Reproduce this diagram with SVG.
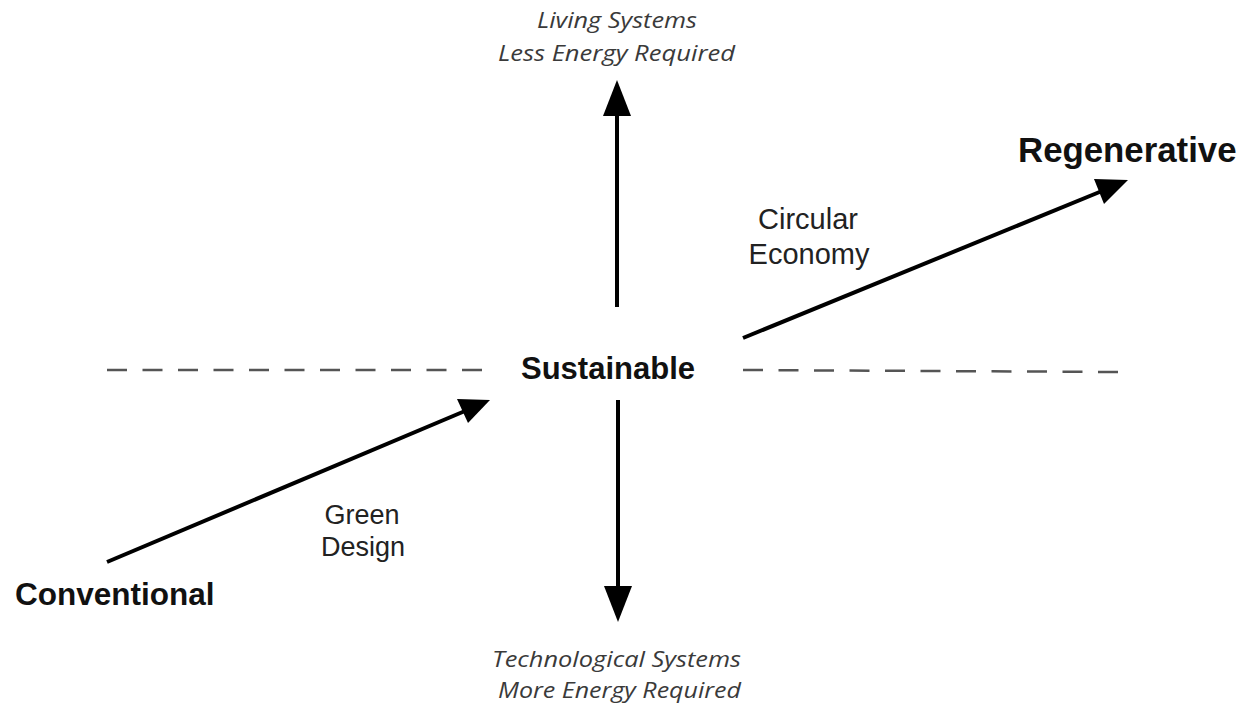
<svg xmlns="http://www.w3.org/2000/svg" width="1243" height="707" viewBox="0 0 1243 707">
<style>
.bold{font-family:"Liberation Sans",Arial,sans-serif;font-weight:bold;fill:#111}
.reg{font-family:"Liberation Sans",Arial,sans-serif;fill:#222;text-anchor:middle}
.it{font-family:"Open Sans","Noto Sans",sans-serif;font-style:italic;font-weight:400;fill:#3a3a3a;text-anchor:middle;font-size:22px}
.arrow{stroke:#000;stroke-width:4;fill:none}
.dash{stroke:#555;stroke-width:2.5;stroke-dasharray:20 15.5;fill:none}
.head{fill:#000}
</style>
<rect width="1243" height="707" fill="#fff"/>
<g id="connectors">
<line class="dash" x1="107" y1="370" x2="482" y2="370"/>
<line class="dash" x1="743" y1="370" x2="1118" y2="372"/>
<line class="arrow" x1="617" y1="307" x2="617" y2="110"/>
<polygon class="head" points="617,80 603,116 631,116"/>
<line class="arrow" x1="618" y1="400" x2="618" y2="590"/>
<polygon class="head" points="618,622 604,586 632,586"/>
<line class="arrow" x1="107" y1="562" x2="465" y2="411"/>
<polygon class="head" points="490,400 457,399 468,423"/>
<line class="arrow" x1="743" y1="338" x2="1102" y2="191"/>
<polygon class="head" points="1128,180 1094,179 1104,204"/>
</g>
<g id="node-sustainable"><text class="bold" x="608" y="379" font-size="31" text-anchor="middle">Sustainable</text></g>
<g id="node-conventional"><text class="bold" x="15" y="605" font-size="31.5">Conventional</text></g>
<g id="node-regenerative"><text class="bold" x="1018" y="162" font-size="34.8">Regenerative</text></g>
<g id="label-circular"><text class="reg" x="808" y="229" font-size="29">Circular</text><text class="reg" x="809" y="264" font-size="29">Economy</text></g>
<g id="label-green"><text class="reg" x="362" y="524" font-size="27">Green</text><text class="reg" x="363" y="556" font-size="27">Design</text></g>
<g id="label-top"><text class="it" x="617" y="28" textLength="160" lengthAdjust="spacingAndGlyphs">Living Systems</text><text class="it" x="616.5" y="61" textLength="237" lengthAdjust="spacingAndGlyphs">Less Energy Required</text></g>
<g id="label-bottom"><text class="it" x="616.5" y="667" textLength="249" lengthAdjust="spacingAndGlyphs">Technological Systems</text><text class="it" x="619.5" y="698" textLength="243" lengthAdjust="spacingAndGlyphs">More Energy Required</text></g>
</svg>
